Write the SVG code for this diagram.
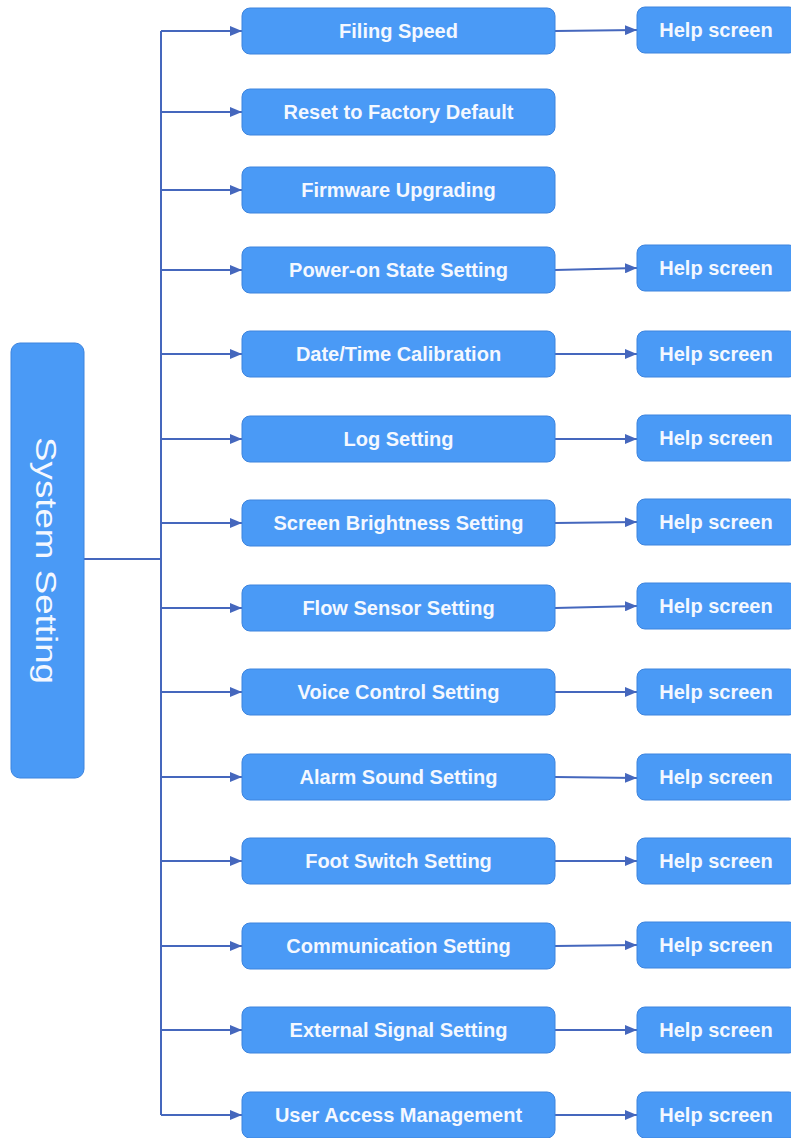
<svg xmlns="http://www.w3.org/2000/svg" width="791" height="1138" viewBox="0 0 791 1138">
<style>
.box{fill:#4a9af6;stroke:#3d84de;stroke-width:1}
.t{font-family:"Liberation Sans",Arial,sans-serif;font-weight:bold;font-size:20px;fill:#f4f8ff;text-anchor:middle;dominant-baseline:central}
.big{font-family:"Liberation Sans",Arial,sans-serif;font-size:30px;fill:#f4f8ff;text-anchor:middle}
.c{stroke:#4567bd;stroke-width:2;fill:none}
.a{stroke:#4567bd;stroke-width:1.8;fill:none;marker-end:url(#ah)}
</style>
<defs>
<marker id="ah" viewBox="0 0 12 10" refX="12" refY="5" markerWidth="12" markerHeight="10" markerUnits="userSpaceOnUse" orient="auto" preserveAspectRatio="none">
<path d="M0,0 L12,5 L0,10 z" fill="#4567bd"/>
</marker>
</defs>
<rect width="791" height="1138" fill="#ffffff"/>
<g id="connectors">
<path class="c" d="M83,559 H161"/>
<path class="c" d="M161,31 V1115"/>
<path class="a" d="M161,31 H242"/>
<path class="a" d="M161,112 H242"/>
<path class="a" d="M161,190 H242"/>
<path class="a" d="M161,270 H242"/>
<path class="a" d="M161,354 H242"/>
<path class="a" d="M161,439 H242"/>
<path class="a" d="M161,523 H242"/>
<path class="a" d="M161,608 H242"/>
<path class="a" d="M161,692 H242"/>
<path class="a" d="M161,777 H242"/>
<path class="a" d="M161,861 H242"/>
<path class="a" d="M161,946 H242"/>
<path class="a" d="M161,1030 H242"/>
<path class="a" d="M161,1115 H242"/>
<path class="a" d="M555,31 L637,30"/>
<path class="a" d="M555,270 L637,268"/>
<path class="a" d="M555,354 L637,354"/>
<path class="a" d="M555,439 L637,439"/>
<path class="a" d="M555,523 L637,522"/>
<path class="a" d="M555,608 L637,606"/>
<path class="a" d="M555,692 L637,692"/>
<path class="a" d="M555,777 L637,778"/>
<path class="a" d="M555,861 L637,861"/>
<path class="a" d="M555,946 L637,945"/>
<path class="a" d="M555,1030 L637,1030"/>
<path class="a" d="M555,1115 L637,1115"/>
</g>
<g id="system-setting">
<rect class="box" x="11" y="343" width="73" height="435" rx="9"/>
<text class="big" transform="translate(36,560.5) rotate(90)" textLength="247" lengthAdjust="spacingAndGlyphs">System Setting</text>
</g>
<g id="filing-speed"><rect class="box" x="242" y="8" width="313" height="46" rx="8"/><text class="t" x="398.5" y="31">Filing Speed</text></g>
<g id="reset-factory"><rect class="box" x="242" y="89" width="313" height="46" rx="8"/><text class="t" x="398.5" y="112">Reset to Factory Default</text></g>
<g id="firmware"><rect class="box" x="242" y="167" width="313" height="46" rx="8"/><text class="t" x="398.5" y="190">Firmware Upgrading</text></g>
<g id="power-on"><rect class="box" x="242" y="247" width="313" height="46" rx="8"/><text class="t" x="398.5" y="270">Power-on State Setting</text></g>
<g id="date-time"><rect class="box" x="242" y="331" width="313" height="46" rx="8"/><text class="t" x="398.5" y="354">Date/Time Calibration</text></g>
<g id="log"><rect class="box" x="242" y="416" width="313" height="46" rx="8"/><text class="t" x="398.5" y="439">Log Setting</text></g>
<g id="screen-brightness"><rect class="box" x="242" y="500" width="313" height="46" rx="8"/><text class="t" x="398.5" y="523">Screen Brightness Setting</text></g>
<g id="flow-sensor"><rect class="box" x="242" y="585" width="313" height="46" rx="8"/><text class="t" x="398.5" y="608">Flow Sensor Setting</text></g>
<g id="voice-control"><rect class="box" x="242" y="669" width="313" height="46" rx="8"/><text class="t" x="398.5" y="692">Voice Control Setting</text></g>
<g id="alarm-sound"><rect class="box" x="242" y="754" width="313" height="46" rx="8"/><text class="t" x="398.5" y="777">Alarm Sound Setting</text></g>
<g id="foot-switch"><rect class="box" x="242" y="838" width="313" height="46" rx="8"/><text class="t" x="398.5" y="861">Foot Switch Setting</text></g>
<g id="communication"><rect class="box" x="242" y="923" width="313" height="46" rx="8"/><text class="t" x="398.5" y="946">Communication Setting</text></g>
<g id="external-signal"><rect class="box" x="242" y="1007" width="313" height="46" rx="8"/><text class="t" x="398.5" y="1030">External Signal Setting</text></g>
<g id="user-access"><rect class="box" x="242" y="1092" width="313" height="46" rx="8"/><text class="t" x="398.5" y="1115">User Access Management</text></g>
<g id="help-1"><rect class="box" x="637" y="7" width="160" height="46" rx="8"/><text class="t" x="716" y="30">Help screen</text></g>
<g id="help-2"><rect class="box" x="637" y="245" width="160" height="46" rx="8"/><text class="t" x="716" y="268">Help screen</text></g>
<g id="help-3"><rect class="box" x="637" y="331" width="160" height="46" rx="8"/><text class="t" x="716" y="354">Help screen</text></g>
<g id="help-4"><rect class="box" x="637" y="415" width="160" height="46" rx="8"/><text class="t" x="716" y="438">Help screen</text></g>
<g id="help-5"><rect class="box" x="637" y="499" width="160" height="46" rx="8"/><text class="t" x="716" y="522">Help screen</text></g>
<g id="help-6"><rect class="box" x="637" y="583" width="160" height="46" rx="8"/><text class="t" x="716" y="606">Help screen</text></g>
<g id="help-7"><rect class="box" x="637" y="669" width="160" height="46" rx="8"/><text class="t" x="716" y="692">Help screen</text></g>
<g id="help-8"><rect class="box" x="637" y="754" width="160" height="46" rx="8"/><text class="t" x="716" y="777">Help screen</text></g>
<g id="help-9"><rect class="box" x="637" y="838" width="160" height="46" rx="8"/><text class="t" x="716" y="861">Help screen</text></g>
<g id="help-10"><rect class="box" x="637" y="922" width="160" height="46" rx="8"/><text class="t" x="716" y="945">Help screen</text></g>
<g id="help-11"><rect class="box" x="637" y="1007" width="160" height="46" rx="8"/><text class="t" x="716" y="1030">Help screen</text></g>
<g id="help-12"><rect class="box" x="637" y="1092" width="160" height="46" rx="8"/><text class="t" x="716" y="1115">Help screen</text></g>
</svg>
